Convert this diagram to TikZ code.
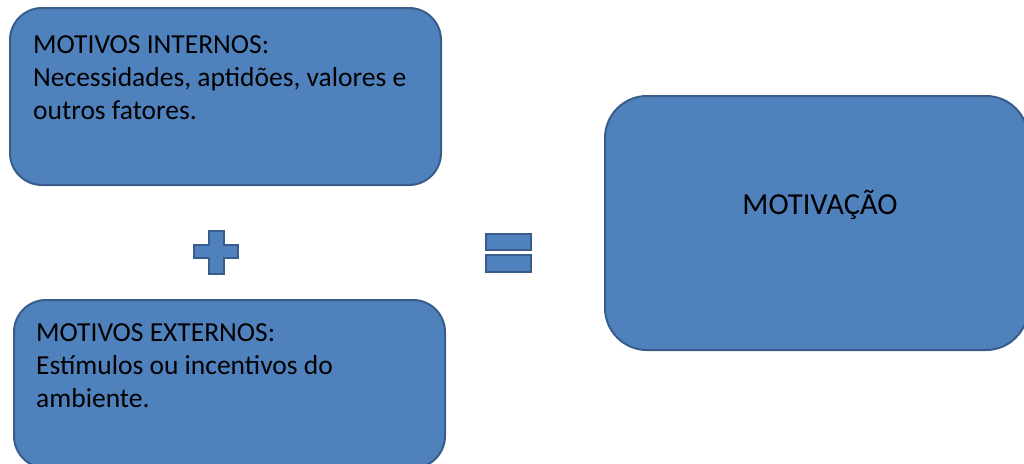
\documentclass[tikz,border=0pt]{standalone}
\usepackage{fontspec}
\setmainfont{Carlito}
\definecolor{boxfill}{HTML}{4F81BD}
\definecolor{boxline}{HTML}{385D8A}
\tikzset{
  box/.style={draw=boxline, fill=boxfill, line width=2pt, rounded corners=#1},
  box/.default=30pt,
  label/.style={anchor=base west, inner sep=0pt, align=left, text=black, font=\fontsize{27.5}{33}\selectfont},
  sym/.style={draw=boxline, fill=boxfill, line width=2.5pt}
}
\begin{document}
\begin{tikzpicture}[x=1pt,y=-1pt]
\useasboundingbox (0,0) rectangle (1024,463);
% boxes
\draw[box=32pt] (10,8) rectangle (441,185);
\node[inner sep=0pt] (internos) at (225.5,96.5) {};
\draw[box=32pt] (14,300) rectangle (445,468);
\node[inner sep=0pt] (externos) at (229.5,384) {};
\draw[box=42pt] (605,96) rectangle (1028,350);
\node[inner sep=0pt] (motivacao) at (816,223) {};
% texts (base anchor = last line baseline)
\node[label] (t1) at (33,119) {MOTIVOS INTERNOS:\\Necessidades, aptidões, valores e\\outros fatores.};
\node[label] (t2) at (36,407) {MOTIVOS EXTERNOS:\\Estímulos ou incentivos do\\ambiente.};
\node[label, anchor=base, font=\fontsize{30.5}{36}\selectfont] (t3) at (820,214) {MOTIVAÇÃO};
% plus
\draw[sym] (209,231) -- (224,231) -- (224,245) -- (238,245) -- (238,258) -- (224,258) -- (224,274) -- (209,274) -- (209,258) -- (194,258) -- (194,245) -- (209,245) -- cycle;
\node[inner sep=0pt] (plus) at (216,252) {};
% equals
\draw[sym] (486,234) rectangle (531,250);
\draw[sym] (486,255) rectangle (531,272);
\node[inner sep=0pt] (equals) at (508,252) {};
\end{tikzpicture}
\end{document}
